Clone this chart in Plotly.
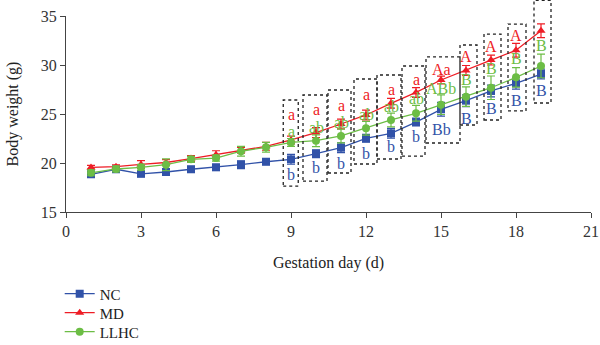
import plotly.graph_objects as go

days = list(range(1, 20))
nc = [18.85, 19.36, 18.9, 19.08, 19.36, 19.56, 19.83, 20.13, 20.37, 20.95, 21.56, 22.52,
      23.03, 24.18, 25.48, 26.36, 27.35, 28.13, 29.08]
nc_err = [0.25, 0.25, 0.3, 0.3, 0.3, 0.3, 0.4, 0.3, 0.5, 0.4, 0.5, 0.4, 0.5, 0.4, 0.7,
          0.6, 0.6, 0.6, 0.5]
md = [19.55, 19.62, 19.85, 20.05, 20.45, 20.85, 21.3, 21.7, 22.35, 23.1, 23.98, 24.9,
      26.09, 27.2, 28.47, 29.45, 30.5, 31.5, 33.5]
md_err = [0.2, 0.2, 0.4, 0.3, 0.3, 0.4, 0.3, 0.4, 0.4, 0.5, 0.5, 0.5, 0.5, 0.5, 0.4,
          0.5, 0.5, 0.7, 0.7]
llhc = [19.0, 19.39, 19.56, 19.83, 20.37, 20.5, 21.2, 21.6, 22.1, 22.28, 22.76, 23.54,
        24.39, 25.07, 25.95, 26.77, 27.68, 28.74, 29.9]
llhc_err = [0.3, 0.3, 0.3, 0.6, 0.3, 0.3, 0.5, 0.5, 0.4, 0.6, 0.7, 0.7, 0.7, 0.8, 1.0,
            1.0, 1.2, 1.0, 1.2]

# significance letters (days 9-19)
sig_days = list(range(9, 20))
md_letters = ["a", "a", "a", "a", "a", "a", "Aa", "A", "A", "A", "A"]
llhc_letters = ["a", "ab", "ab", "ab", "ab", "ab", "ABb", "B", "B", "B", "B"]
nc_letters = ["b", "b", "b", "b", "b", "b", "Bb", "B", "B", "B", "B"]
md_letter_y = [24.9, 25.5, 25.9, 27.0, 27.45, 28.47, 29.5, 30.85, 31.87, 33.06, 35.2]
llhc_letter_y = [23.2, 23.6, 24.1, 24.9, 25.75, 26.6, 27.6, 28.47, 29.66, 30.68, 32.04]
nc_letter_y = [18.8, 19.5, 20.0, 21.0, 21.66, 22.7, 23.4, 24.56, 25.58, 26.36, 27.38]

# dotted boxes (x0, x1, y0, y1) in data units
boxes = [(8.69, 9.29, 17.65, 26.43), (9.48, 10.44, 18.16, 26.94),
         (10.48, 11.4, 18.98, 27.45), (11.52, 12.44, 19.9, 28.57),
         (12.44, 13.4, 20.41, 28.98), (13.44, 14.36, 20.71, 29.9),
         (14.4, 15.76, 22.04, 30.82), (15.76, 16.44, 23.88, 32.04),
         (16.72, 17.4, 24.39, 33.16), (17.68, 18.4, 25.31, 34.18),
         (18.72, 19.4, 26.12, 36.6)]

X_RANGE = [0, 21]
Y_RANGE = [15, 35]

BLUE = "#3152a8"
RED = "#ee1c25"
GREEN = "#6cbd45"
FONT = "Liberation Serif"

fig = go.Figure()

def add(name, y, err, color, symbol, legend):
    fig.add_trace(go.Scatter(
        x=days, y=y, name=name, mode="lines+markers", legend=legend,
        line=dict(color=color, width=1.3),
        marker=dict(symbol=symbol, size=8, color=color),
        error_y=dict(type="data", array=err, visible=True, color=color,
                     thickness=1.2, width=4),
    ))

add("NC", nc, nc_err, BLUE, "square", "legend")
add("MD", md, md_err, RED, "triangle-up", "legend2")
add("LLHC", llhc, llhc_err, GREEN, "circle", "legend3")

def px(v):
    return (v - X_RANGE[0]) / (X_RANGE[1] - X_RANGE[0])

def py(v):
    return (v - Y_RANGE[0]) / (Y_RANGE[1] - Y_RANGE[0])

for x0, x1, y0, y1 in boxes:
    fig.add_shape(type="rect", x0=px(x0), x1=px(x1), y0=py(y0), y1=py(y1),
                  xref="paper", yref="paper",
                  line=dict(color="#222222", width=1.3, dash="dot"), layer="above")

for letters, ys, color in [(md_letters, md_letter_y, RED),
                           (llhc_letters, llhc_letter_y, GREEN),
                           (nc_letters, nc_letter_y, BLUE)]:
    for d, t, yy in zip(sig_days, letters, ys):
        fig.add_annotation(x=d, y=yy, text=t, showarrow=False, xref="x", yref="y",
                           font=dict(family=FONT, size=16, color=color))

leg_common = dict(orientation="v", x=-0.012, xanchor="left", yanchor="middle",
                  font=dict(family=FONT, size=15, color="#222222"),
                  bgcolor="rgba(0,0,0,0)")
fig.update_layout(
    width=600, height=345,
    margin=dict(l=66, r=9, t=16, b=133, autoexpand=False),
    paper_bgcolor="white", plot_bgcolor="white",
    font=dict(family=FONT, size=15, color="#333333"),
    showlegend=True,
    legend=dict(y=-0.418, **leg_common),
    legend2=dict(y=-0.515, **leg_common),
    legend3=dict(y=-0.612, **leg_common),
)
fig.update_xaxes(range=X_RANGE, tickvals=[0, 3, 6, 9, 12, 15, 18, 21],
                 showline=True, linecolor="#444444", linewidth=1.2,
                 ticks="outside", ticklen=5, tickcolor="#444444",
                 showgrid=False, zeroline=False,
                 title=dict(text="Gestation day (d)", standoff=17,
                            font=dict(family=FONT, size=16, color="#222222")),
                 tickfont=dict(family=FONT, size=16, color="#333333"))
fig.update_yaxes(range=Y_RANGE, tickvals=[15, 20, 25, 30, 35],
                 showline=True, linecolor="#444444", linewidth=1.2,
                 ticks="outside", ticklen=5, tickcolor="#444444",
                 showgrid=False, zeroline=False,
                 title=dict(text="Body weight (g)", standoff=18,
                            font=dict(family=FONT, size=16, color="#222222")),
                 tickfont=dict(family=FONT, size=16, color="#333333"))

fig.write_html("out.html")
